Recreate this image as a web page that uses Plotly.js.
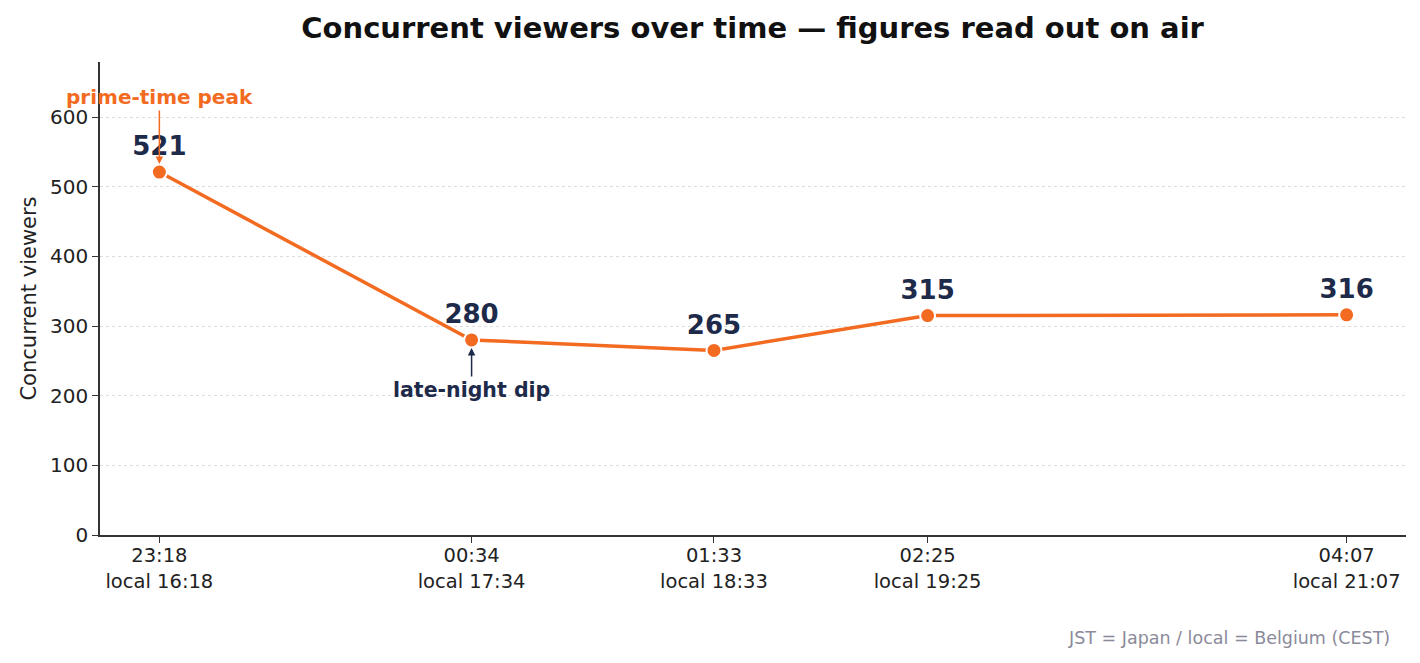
<!DOCTYPE html>
<html>
<head>
<meta charset="utf-8">
<script src="https://cdn.plot.ly/plotly-3.0.1.min.js"></script>
<style>
  html, body { margin: 0; padding: 0; background: #fff; }
  #chart { width: 1420px; height: 663px; }
</style>
</head>
<body>
<div id="chart"></div>
<script>
"use strict";

// Broadcast times (JST) and matching Belgian local times
var times = ["2024-05-01 23:18", "2024-05-02 00:34", "2024-05-02 01:33", "2024-05-02 02:25", "2024-05-02 04:07"]
var jstLabels = ["23:18", "00:34", "01:33", "02:25", "04:07"]
var localLabels = ["local 16:18", "local 17:34", "local 18:33", "local 19:25", "local 21:07"]
var viewers = [521, 280, 265, 315, 316]

var orange = "#F26B21"
var navy = "#1E2A4A"
var font = "'DejaVu Sans', sans-serif"

var tickText = jstLabels.map(function(t, i){ return t + "<br>" + localLabels[i] })

// pad the time axis by 5% of the span on each side
function toMs(s){ return new Date(s.replace(" ", "T") + ":00Z").getTime() }
function fromMs(ms){ return new Date(ms).toISOString().slice(0, 19).replace("T", " ") }
var t0 = toMs(times[0])
var t1 = toMs(times[times.length - 1])
var pad = (t1 - t0) * 0.05

var trace = {
  x: times,
  y: viewers,
  type: "scatter",
  mode: "lines+markers+text",
  text: viewers.map(String),
  textposition: "top center",
  textfont: { family: font, size: 26, color: navy, weight: 700 },
  line: { color: orange, width: 3.5 },
  marker: { color: orange, size: 15, line: { color: "#fff", width: 2 } },
  hoverinfo: "x+y",
  cliponaxis: false
}

var layout = {
  width: 1420,
  height: 663,
  margin: { l: 100, r: 14, t: 62, b: 128 },
  paper_bgcolor: "#fff",
  plot_bgcolor: "#fff",
  showlegend: false,
  font: { family: font, size: 16, color: "#222" },
  title: {
    text: "<b>Concurrent viewers over time — figures read out on air</b>",
    font: { family: font, size: 29, color: "#111" },
    x: 0.53, xanchor: "center", y: 0.958, yanchor: "middle"
  },
  xaxis: {
    type: "date",
    range: [fromMs(t0 - pad), fromMs(t1 + pad)],
    tickvals: times,
    ticktext: tickText,
    ticks: "outside",
    ticklen: 6,
    tickcolor: "#333",
    ticklabelstandoff: -4,
    showgrid: false,
    zeroline: false,
    showline: true,
    linecolor: "#333",
    linewidth: 1.5,
    tickfont: { family: font, size: 19.5, color: "#222" }
  },
  yaxis: {
    range: [0, 679],
    tickvals: [0, 100, 200, 300, 400, 500, 600],
    ticks: "outside",
    ticklen: 6,
    tickcolor: "#333",
    showline: true,
    linecolor: "#333",
    linewidth: 1.5,
    zeroline: false,
    gridcolor: "#dddddd",
    griddash: "dot",
    gridwidth: 1,
    tickfont: { family: font, size: 20, color: "#222" },
    title: { text: "Concurrent viewers", font: { family: font, size: 21, color: "#222" }, standoff: 8 }
  },
  annotations: [
    {
      x: times[0], y: viewers[0], xref: "x", yref: "y",
      text: "<b>prime-time peak</b>",
      font: { family: font, size: 20, color: orange },
      showarrow: true, arrowhead: 2, arrowsize: 1, arrowwidth: 1.5, arrowcolor: orange,
      ax: 0, ay: -75, standoff: 8
    },
    {
      x: times[1], y: viewers[1], xref: "x", yref: "y",
      text: "<b>late-night dip</b>",
      font: { family: font, size: 20.5, color: navy },
      showarrow: true, arrowhead: 2, arrowsize: 1, arrowwidth: 1.5, arrowcolor: navy,
      ax: 0, ay: 50, standoff: 8
    },
    {
      x: 1, y: 0, xref: "paper", yref: "paper",
      xanchor: "right", yanchor: "middle", xshift: -14, yshift: -103,
      text: "JST = Japan / local = Belgium (CEST)",
      font: { family: font, size: 17.5, color: "#8a8a9a" },
      showarrow: false
    }
  ]
}

Plotly.newPlot("chart", [trace], layout, { displayModeBar: false, responsive: false })
</script>
</body>
</html>
